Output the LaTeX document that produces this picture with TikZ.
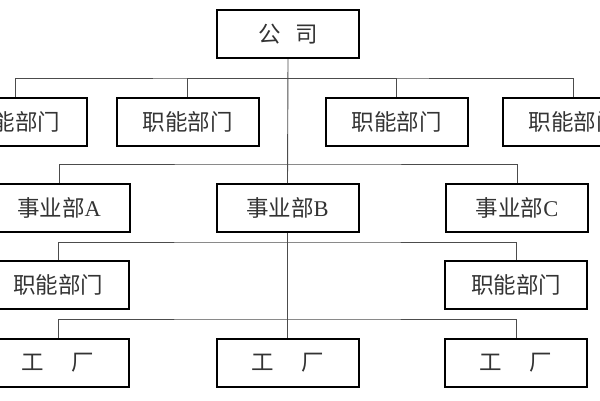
\documentclass[tikz,border=0pt]{standalone}
\usepackage{fontspec}
\setmainfont{Liberation Serif}
\newfontfamily\cjk{Noto Sans CJK SC}
\begin{document}
\begin{tikzpicture}[x=1pt,y=-1pt,
  box/.style={draw=black,line width=2pt,fill=white,minimum width=142pt,minimum height=48pt,inner sep=0pt,font=\fontsize{22.5}{26}\selectfont,text=black!80},
  conn/.style={draw=black!70,line width=0.9pt}]
\useasboundingbox (0,0) rectangle (600,400);
% nodes
\node[box] (gs) at (288,34) {\cjk 公\hspace{15pt}司};
\node[box] (z1) at (15.5,121.5) {\cjk 职能部门};
\node[box] (z2) at (187.5,121.5) {\cjk 职能部门};
\node[box] (z3) at (396.5,121.5) {\cjk 职能部门};
\node[box] (z4) at (573.5,121.5) {\cjk 职能部门};
\node[box] (sa) at (59,208) {{\cjk 事业部}A};
\node[box] (sb) at (287.5,208) {{\cjk 事业部}B};
\node[box] (sc) at (517,208) {{\cjk 事业部}C};
\node[box] (za) at (58,285) {\cjk 职能部门};
\node[box] (zc) at (516,285) {\cjk 职能部门};
\node[box] (ga) at (58,362.5) {\cjk 工\hspace{28pt}厂};
\node[box] (gb) at (287.5,362.5) {\cjk 工\hspace{28pt}厂};
\node[box] (gc) at (516,362.5) {\cjk 工\hspace{28pt}厂};
% bus coordinates
\coordinate (b1) at (287.5,78);
\coordinate (b2) at (287.5,164);
\coordinate (b3) at (287.5,242);
\coordinate (b4) at (287.5,319);
% connectors
\draw[conn] (gs.south) -- (sb.north);
\draw[conn] (z1.north) |- (b1) -| (z4.north);
\draw[conn] (z2.north) |- (b1);
\draw[conn] (z3.north) |- (b1);
\draw[conn] (sa.north) |- (b2) -| (sc.north);
\draw[conn] (sb.south) -- (gb.north);
\draw[conn] (za.north) |- (b3) -| (zc.north);
\draw[conn] (ga.north) |- (b4) -| (gc.north);
\end{tikzpicture}
\end{document}
